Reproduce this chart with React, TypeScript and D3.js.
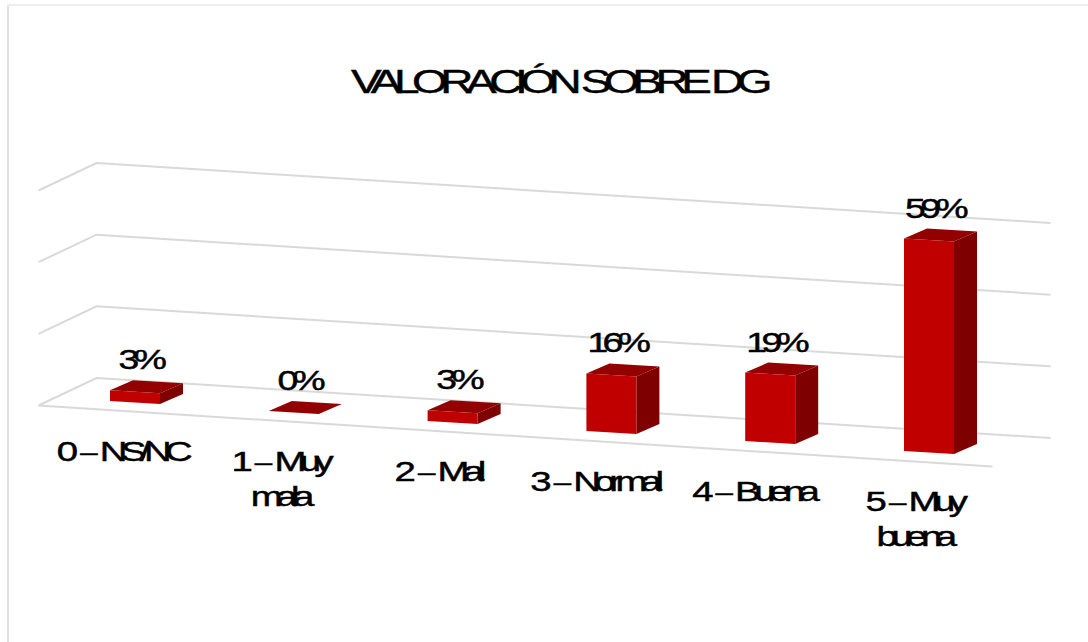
import React from "react";
import * as d3 from "d3";

const title = "VALORACIÓN SOBRE DG";
const categories = [["0 – NS/NC"], ["1 – Muy", "mala"], ["2 – Mal"], ["3 – Normal"], ["4 – Buena"], ["5 – Muy", "buena"]];
const values = [3, 0, 3, 16, 19, 59];
const valueLabels = ["3%", "0%", "3%", "16%", "19%", "59%"];
const gridValues = [0, 20, 40, 60];

const W = 1088, H = 642;
const xBar = d3.scalePoint<number>().domain(d3.range(categories.length)).range([110, 904]);
const yBase = d3.scaleLinear().domain([110, 904]).range([401, 451]);
const barH = d3.scaleLinear().domain([0, 80]).range([0, 288]);
const gridY = d3.scaleLinear().domain([0, 60]).range([378, 163]);
const barW = 50, barSkew = 3, depthX = 23, depthY = -10;
const wallDX = 954, wallDY = 60, sideDX = -58, sideDY = 27.5;
const FONT = "'Liberation Sans', Arial, sans-serif";
const labelShift = (i: number) => [0, -1, -2, -4, -4, -2][i];

function poly(pts: number[][]) { return pts.map(p => p.join(",")).join(" "); }

function Stretched({ x, y, size, sx, ls, ws = 0, children }: any) {
  return (
    <text transform={`translate(${x},${y}) scale(${sx},1)`} textAnchor="middle" fontFamily={FONT} fontSize={size}
      letterSpacing={ls} wordSpacing={ws} fill="#000" stroke="#000" strokeWidth={0.45} xmlSpace="preserve">
      {children}
    </text>
  );
}

function CategoryText({ text }: { text: string }) {
  const m = text.match(/^(\S+ )(–)( )(.*)$/);
  if (!m) return <>{text}</>;
  return (
    <>
      <tspan letterSpacing={-3}>{m[1]}</tspan>
      <tspan letterSpacing={-3} fontSize={22} dy={-1.5}>{m[2]}</tspan>
      <tspan letterSpacing={-3} dy={1.5}>{m[3]}</tspan>
      <tspan>{m[4]}</tspan>
    </>
  );
}

export default function App() {
  return (
    <svg width={W} height={H} viewBox={`0 0 ${W} ${H}`} style={{ position: "absolute", left: 0, top: 0 }}>
      <rect width={W} height={H} fill="#fff" />
      <path d={`M8,${H}V5`} fill="none" stroke="#e0e0e0" strokeWidth={2} />
      <path d={`M7,5H${W}`} fill="none" stroke="#eeeeee" strokeWidth={2} />
      <Stretched x={558} y={93} size={34} sx={1.35} ls={-5.5} ws={1}>{title}</Stretched>
      {gridValues.map(v => {
        const y = gridY(v);
        return (
          <polyline key={v} points={poly([[96.5 + sideDX, y + sideDY], [96.5, y], [96.5 + wallDX, y + wallDY]])} fill="none" stroke="#d9d9d9" strokeWidth={2} />
        );
      })}
      <polyline points={poly([[96.5 + sideDX, gridY(0) + sideDY], [96.5 + sideDX + wallDX, gridY(0) + sideDY + wallDY + 1]])} fill="none" stroke="#d9d9d9" strokeWidth={2} />
      {values.map((v, i) => {
        const x = xBar(i)!;
        const b = yBase(x);
        const h = barH(v);
        const fl = [x, b - h], fr = [x + barW, b - h + barSkew];
        const bl = [x, b], br = [x + barW, b + barSkew];
        const back = (p: number[]) => [p[0] + depthX, p[1] + depthY];
        return (
          <g key={i}>
            {h > 0 && <polygon points={poly([fr, back(fr), back(br), br])} fill="#7f0000" />}
            <polygon points={poly([fl, back(fl), back(fr), fr])} fill="#930000" />
            {h > 0 && <polygon points={poly([fl, fr, br, bl])} fill="#c00000" />}
            <Stretched x={x + 30} y={b - h - 21} size={27} sx={1.38} ls={-4}>{valueLabels[i]}</Stretched>
          </g>
        );
      })}
      {categories.map((lines, i) => {
        const x = xBar(i)! + 11.5 + labelShift(i);
        const b = yBase(xBar(i)!) + 60;
        return lines.map((t, j) => (
          <Stretched key={t} x={x} y={b + j * 34.5} size={27} sx={1.42} ls={-4.6}><CategoryText text={t} /></Stretched>
        ));
      })}
    </svg>
  );
}
